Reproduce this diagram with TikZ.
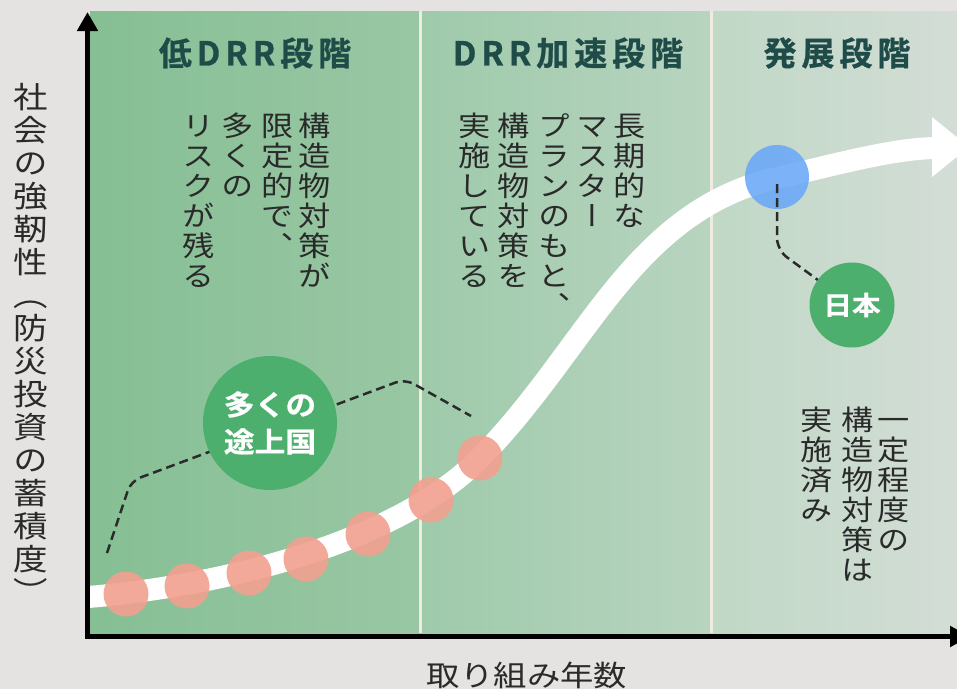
\documentclass[tikz,border=0pt]{standalone}
\usepackage{fontspec}
\usetikzlibrary{arrows.meta}
\newfontfamily\jp[FakeStretch=1.15]{Noto Sans CJK JP}
\newfontfamily\jpv[FakeStretch=1.15,RawFeature=+vert]{Noto Sans CJK JP}
\newfontfamily\jpb[FakeStretch=1.1,FakeBold=0.6]{Noto Sans CJK JP Bold}
\newfontfamily\jpt[LetterSpace=15,FakeBold=0.8]{Noto Sans CJK JP Bold}
\definecolor{bgc}{HTML}{E4E3E1}
\definecolor{ttlc}{HTML}{1F4B48}
\definecolor{txtc}{HTML}{2A2A2A}
\definecolor{gcircc}{HTML}{4DAF6D}
\definecolor{pinkc}{HTML}{F2A090}
\definecolor{bluec}{HTML}{6AA8F8}
\definecolor{divc}{HTML}{EEEBDF}
\definecolor{gA}{HTML}{86BF94}
\definecolor{gB}{HTML}{99C7A4}
\definecolor{gC}{HTML}{9ECAAA}
\definecolor{gD}{HTML}{B8D4C0}
\definecolor{gE}{HTML}{C0D8C6}
\definecolor{gF}{HTML}{D3DDD6}
\newcommand\vst{\rule{0pt}{0.88em}}
\begin{document}
\begin{tikzpicture}[x=1pt,y=-1pt,
  vtext/.style={font=\jpv\fontsize{28}{30}\selectfont, text=txtc, align=center, inner sep=0, anchor=north},
  ttl/.style={font=\jpt\fontsize{33}{36}\selectfont, text=ttlc, inner sep=0},
  gcircle/.style={circle, fill=gcircc, text=white, inner sep=0, align=center},
  pinkdot/.style={circle, fill=pinkc, fill opacity=0.9, minimum size=45pt, inner sep=0},
  bluedot/.style={circle, fill=bluec, fill opacity=0.88, minimum size=64pt, inner sep=0},
  dline/.style={draw=txtc, line width=2.5pt, dash pattern=on 9pt off 5pt},
  axis/.style={line width=5pt, line join=miter}
]
\useasboundingbox (0,0) rectangle (957,689);
\fill[bgc] (0,0) rectangle (957,689);
% panels
\shade[left color=gA, right color=gB] (90,11) rectangle (420,633);
\shade[left color=gC, right color=gD] (420,11) rectangle (711,633);
\shade[left color=gE, right color=gF] (711,11) rectangle (957,633);
\draw[divc, line width=3pt] (420,11) -- (420,633);
\draw[divc, line width=3pt] (711,11) -- (711,633);
% titles
\node[ttl] (t1) at (255,53) {低DRR段階};
\node[ttl] (t2) at (568,53) {DRR加速段階};
\node[ttl] (t3) at (837,53) {発展段階};
% panel texts
\node[vtext] (a1) at (315,112) {\vst 構\\造\\物\\対\\策\\が};
\node[vtext] (a2) at (278,112) {\vst 限\\定\\的\\で\\、};
\node[vtext] (a3) at (238,112) {\vst 多\\く\\の};
\node[vtext] (a4) at (199,112) {\vst リ\\ス\\ク\\が\\残\\る};
\node[vtext] (b1) at (630,112) {\vst 長\\期\\的\\な};
\node[vtext] (b2) at (593,112) {\vst マ\\ス\\タ\\ー};
\node[vtext] (b3) at (555,112) {\vst プ\\ラ\\ン\\の\\も\\と\\、};
\node[vtext] (b4) at (514,112) {\vst 構\\造\\物\\対\\策\\を};
\node[vtext] (b5) at (475,112) {\vst 実\\施\\し\\て\\い\\る};
\node[vtext] (c1) at (894,406) {\vst 一\\定\\程\\度\\の};
\node[vtext] (c2) at (858,406) {\vst 構\\造\\物\\対\\策\\は};
\node[vtext] (c3) at (817,406) {\vst 実\\施\\済\\み};
% axis labels
\node[font=\jpv\fontsize{30}{33}\selectfont, text=txtc, align=center, anchor=north, inner sep=0] (ylab) at (31,82)
  {\vst 社\\会\\の\\強\\靭\\性\\（\\防\\災\\投\\資\\の\\蓄\\積\\度\\）};
\node[font=\jp\fontsize{29}{30}\selectfont, text=txtc, anchor=base, inner sep=0] (xlab) at (527,686) {取り組み年数};
% dashed leader of developing countries
\coordinate (d1) at (107,553);
\coordinate (d2) at (131,481);
\coordinate (d3) at (405,379);
\coordinate (d4) at (471,416);
\draw[dline, rounded corners=10pt] (d1) -- (d2) -- (d3) -- (d4);
% curve
\coordinate (k0) at (88,597);
\coordinate (k1) at (480,458);
\coordinate (k2) at (610,295);
\coordinate (k3) at (777,178);
\coordinate (k4) at (934,148);
\draw[white, line width=22pt] (k0) .. controls (230,585) and (400,540) .. (k1)
  .. controls (530,408) and (570,345) .. (k2)
  .. controls (650,245) and (700,195) .. (k3)
  .. controls (830,166) and (890,149) .. (k4);
\fill[white] (932,117) -- (969,147) -- (932,177) -- cycle;
% dots
\node[pinkdot] (p1) at (126,594) {};
\node[pinkdot] (p2) at (187,586) {};
\node[pinkdot] (p3) at (249,573) {};
\node[pinkdot] (p4) at (306,559) {};
\node[pinkdot] (p5) at (368,534) {};
\node[pinkdot] (p6) at (431,500) {};
\node[pinkdot] (p7) at (480,458) {};
\node[bluedot] (jd) at (777,177) {};
% Japan leader
\coordinate (j0) at (777,184);
\coordinate (j1) at (777,250);
\coordinate (jc) at (852,305);
\draw[dline, rounded corners=12pt] (j0) -- (j1) -- (jc);
\node[gcircle, minimum size=85pt, font=\jpb\fontsize{26}{30}\selectfont] (jp) at (jc) {日本};
\node[gcircle, minimum size=134pt, font=\jpb\fontsize{28}{37}\selectfont] (dev) at (270,423) {多くの\\途上国};
% axes
\coordinate (ytop) at (87.5,12);
\coordinate (orig) at (87.5,636.5);
\coordinate (xend) at (970,636.5);
\draw[axis, {Triangle[width=20pt,length=19pt]}-{Triangle[width=20pt,length=20pt]}] (ytop) -- (orig) -- (xend);
\end{tikzpicture}
\end{document}
